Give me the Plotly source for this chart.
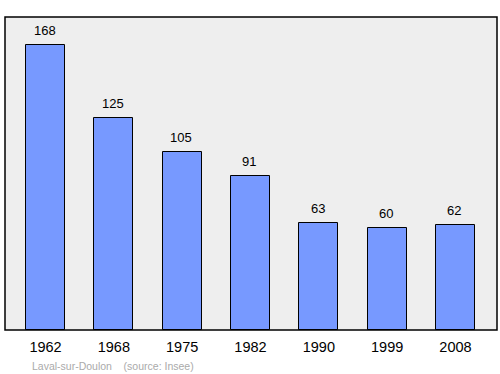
import plotly.graph_objects as go

years = ["1962", "1968", "1975", "1982", "1990", "1999", "2008"]
population = [168, 125, 105, 91, 63, 60, 62]
source_text = "Laval-sur-Doulon    (source: Insee)"

idx = list(range(len(years)))

fig = go.Figure()
fig.add_trace(go.Bar(
    x=idx, y=population, width=0.57,
    marker=dict(color="#7799ff", line=dict(color="#000000", width=1)),
    hoverinfo="skip",
))

for i, v in zip(idx, population):
    fig.add_annotation(x=i, y=v, text=str(v), showarrow=False, yanchor="bottom",
                       yshift=5, xshift=-1,
                       font=dict(family="Liberation Sans, Arial", size=13, color="#000"))

fig.add_annotation(xref="paper", yref="paper", x=0.05, y=-0.088, xanchor="left", yanchor="top",
                   text=source_text, showarrow=False,
                   font=dict(family="Liberation Sans, Arial", size=10.5, color="#aaaaaa"))

fig.add_shape(type="rect", xref="paper", yref="paper", x0=0, y0=0, x1=1, y1=1,
              line=dict(color="#000000", width=1.5), layer="above")

fig.update_layout(
    width=500, height=374,
    margin=dict(l=5, r=3, t=17, b=44),
    paper_bgcolor="#ffffff", plot_bgcolor="#eeeeee",
    showlegend=False,
    bargap=0,
    xaxis=dict(range=[-0.593, 6.608], tickvals=idx, ticktext=years, showgrid=False,
               zeroline=False, ticks="", ticklabelstandoff=6,
               tickfont=dict(family="Liberation Sans, Arial", size=14.5, color="#000")),
    yaxis=dict(range=[0, 184.5], showgrid=False, zeroline=False, showticklabels=False, ticks=""),
)

fig.write_html("out.html")
